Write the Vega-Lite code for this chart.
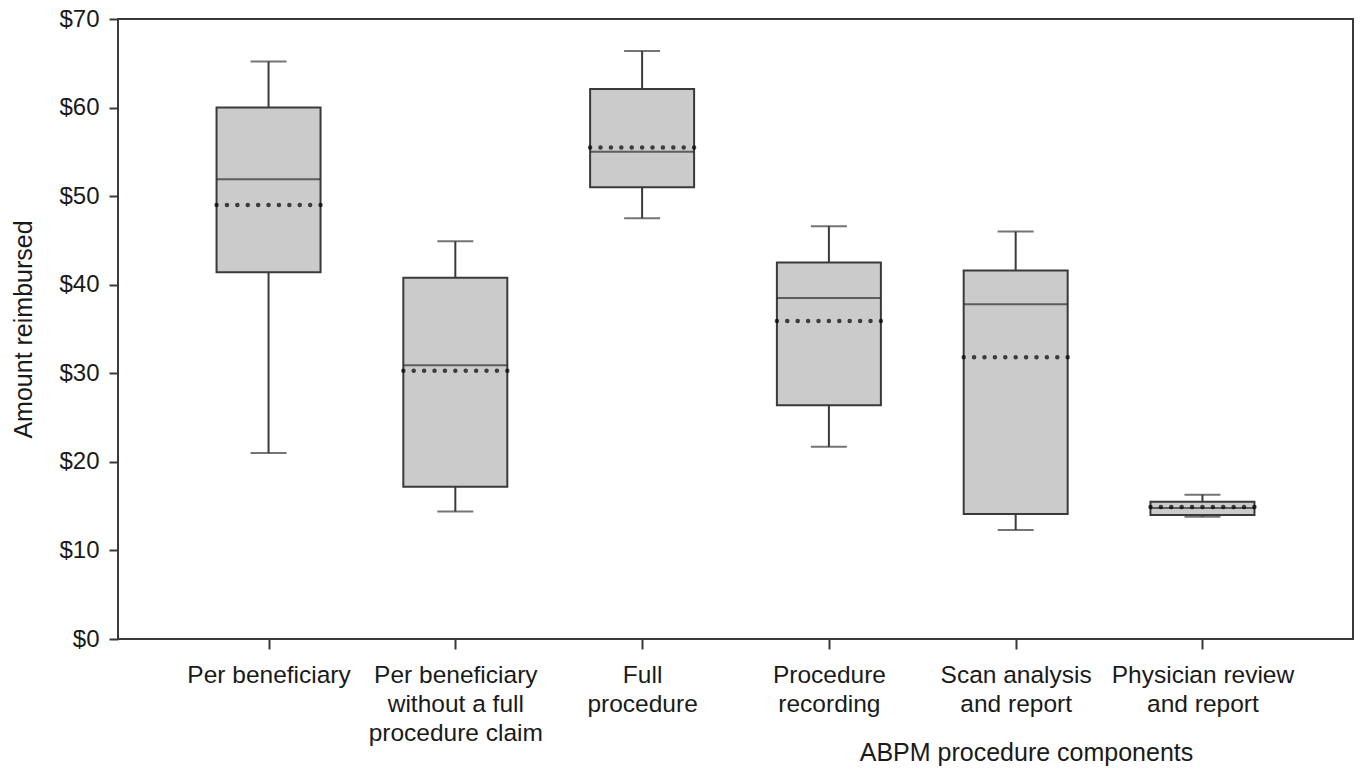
{
  "$schema": "https://vega.github.io/schema/vega-lite/v6.json",
  "width": 1235,
  "height": 620,
  "autosize": {"type": "none"},
  "padding": {"left": 118, "top": 19, "right": 7, "bottom": 131},
  "background": "white",
  "config": {
    "view": {"stroke": "#3a3a3a", "strokeWidth": 2},
    "font": "Liberation Sans"
  },
  "data": {
    "values": [
      {"component": "Per beneficiary", "min": 21.0, "q1": 41.4, "median": 51.9, "q3": 60.0, "max": 65.2, "mean": 49.0},
      {"component": "Per beneficiary without a full procedure claim", "min": 14.4, "q1": 17.2, "median": 30.9, "q3": 40.8, "max": 44.9, "mean": 30.3},
      {"component": "Full procedure", "min": 47.5, "q1": 51.0, "median": 55.0, "q3": 62.1, "max": 66.4, "mean": 55.5},
      {"component": "Procedure recording", "min": 21.7, "q1": 26.4, "median": 38.5, "q3": 42.5, "max": 46.6, "mean": 35.9},
      {"component": "Scan analysis and report", "min": 12.3, "q1": 14.1, "median": 37.8, "q3": 41.6, "max": 46.0, "mean": 31.8},
      {"component": "Physician review and report", "min": 13.8, "q1": 14.0, "median": 14.8, "q3": 15.5, "max": 16.3, "mean": 14.9}
    ]
  },
  "encoding": {
    "x": {
      "field": "component",
      "type": "nominal",
      "sort": null,
      "scale": {"type": "point", "padding": 0.806},
      "axis": {
        "title": "ABPM procedure components",
        "titleFont": "Liberation Sans",
        "titleFontSize": 25,
        "titleFontWeight": "normal",
        "titleColor": "#1a1a1a",
        "titleX": 908,
        "titleY": 121,
        "titleBaseline": "alphabetic",
        "titleAnchor": null,
        "domain": false,
        "ticks": true,
        "tickSize": 10,
        "tickColor": "#3a3a3a",
        "tickWidth": 2,
        "labelAngle": 0,
        "labelFont": "Liberation Sans",
        "labelFontSize": 24.5,
        "labelColor": "#1a1a1a",
        "labelPadding": 14,
        "labelLineHeight": 29,
        "labelBaseline": "top",
        "labelLimit": 0,
        "labelOverlap": false,
        "labelExpr": "datum.label == 'Per beneficiary without a full procedure claim' ? ['Per beneficiary', 'without a full', 'procedure claim'] : datum.label == 'Full procedure' ? ['Full', 'procedure'] : datum.label == 'Procedure recording' ? ['Procedure', 'recording'] : datum.label == 'Scan analysis and report' ? ['Scan analysis', 'and report'] : datum.label == 'Physician review and report' ? ['Physician review', 'and report'] : datum.label"
      }
    }
  },
  "layer": [
    {
      "mark": {"type": "rule", "color": "#3a3a3a", "strokeWidth": 2},
      "encoding": {
        "y": {
          "field": "q3",
          "type": "quantitative",
          "scale": {"domain": [0, 70], "nice": false},
          "axis": {
            "title": "Amount reimbursed",
            "titleFont": "Liberation Sans",
            "titleFontSize": 25,
            "titleFontWeight": "normal",
            "titleColor": "#1a1a1a",
            "titlePadding": 22,
            "values": [0, 10, 20, 30, 40, 50, 60, 70],
            "labelExpr": "'$' + datum.value",
            "labelFont": "Liberation Sans",
            "labelFontSize": 24,
            "labelColor": "#1a1a1a",
            "labelPadding": 10,
            "tickSize": 9,
            "tickColor": "#3a3a3a",
            "tickWidth": 2,
            "domain": false,
            "grid": false
          }
        },
        "y2": {"field": "max"}
      }
    },
    {
      "mark": {"type": "rule", "color": "#3a3a3a", "strokeWidth": 2},
      "encoding": {
        "y": {"field": "min", "type": "quantitative"},
        "y2": {"field": "q1"}
      }
    },
    {
      "mark": {"type": "tick", "color": "#3a3a3a", "size": 36, "thickness": 2},
      "encoding": {"y": {"field": "max", "type": "quantitative"}}
    },
    {
      "mark": {"type": "tick", "color": "#3a3a3a", "size": 36, "thickness": 2},
      "encoding": {"y": {"field": "min", "type": "quantitative"}}
    },
    {
      "mark": {"type": "bar", "size": 104, "fill": "#cbcbcb", "stroke": "#3a3a3a", "strokeWidth": 2},
      "encoding": {
        "y": {"field": "q1", "type": "quantitative"},
        "y2": {"field": "q3"}
      }
    },
    {
      "mark": {"type": "tick", "color": "#2e2e2e", "size": 104, "thickness": 2},
      "encoding": {"y": {"field": "median", "type": "quantitative"}}
    },
    {
      "mark": {"type": "tick", "size": 104, "thickness": 0, "fill": "transparent", "stroke": "#000000", "strokeWidth": 4.5, "strokeCap": "round", "strokeDash": [0.01, 10.39]},
      "encoding": {"y": {"field": "mean", "type": "quantitative"}}
    }
  ]
}
